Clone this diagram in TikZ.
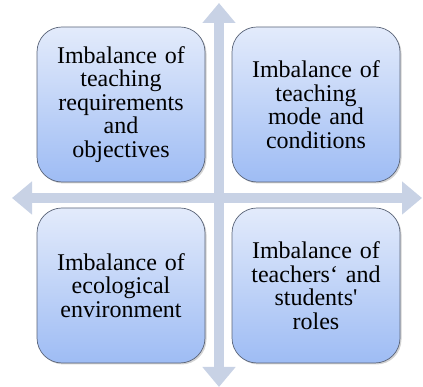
\documentclass[tikz,border=0pt]{standalone}
\usepackage{fontspec}
\setmainfont{Liberation Serif}
\usepackage{xcolor}
\usetikzlibrary{arrows.meta,shadows}

\definecolor{axisgray}{HTML}{C8D2E5}
\definecolor{boxtop}{HTML}{E3EBFB}
\definecolor{boxbottom}{HTML}{9EBCF4}
\definecolor{boxline}{HTML}{5A6478}

\tikzset{
  quadbox/.style={draw=boxline, line width=0.7pt, rounded corners=25pt,
    top color=boxtop, bottom color=boxbottom,
    drop shadow={shadow xshift=1.5pt, shadow yshift=-1.5pt, opacity=0.35},
    minimum width=168pt, minimum height=155pt, text width=150pt, align=center,
    font=\fontsize{24}{23.5}\selectfont, inner sep=0pt},
  axisarrow/.style={draw=axisgray, line width=10pt,
    {Triangle[width=32pt,length=20pt]}-{Triangle[width=32pt,length=20pt]}}
}

\begin{document}
\begin{tikzpicture}[x=1pt, y=1pt] % one unit = one pixel of the figure
  \useasboundingbox (0,0) rectangle (423,387);

  % Axis ends
  \coordinate (top)    at (219,384);
  \coordinate (bottom) at (219,0);
  \coordinate (left)   at (12,189);
  \coordinate (right)  at (422,189);

  % Cross of double arrows
  \draw[axisarrow] (left) -- (right);
  \draw[axisarrow] (bottom) -- (top);

  % The four quadrants
  \node[quadbox] (reqs)  at (121,282.5) {Imbalance of\\ teaching\\ requirements\\ and\\ objectives};
  \node[quadbox] (mode)  at (316,282.5) {Imbalance of\\ teaching\\ mode and\\ conditions};
  \node[quadbox] (eco)   at (121,101.5) {Imbalance of\\ ecological\\ environment};
  \node[quadbox] (roles) at (316,101.5) {Imbalance of\\ teachers‘ and\\ students\textquotesingle\\ roles};
\end{tikzpicture}
\end{document}
